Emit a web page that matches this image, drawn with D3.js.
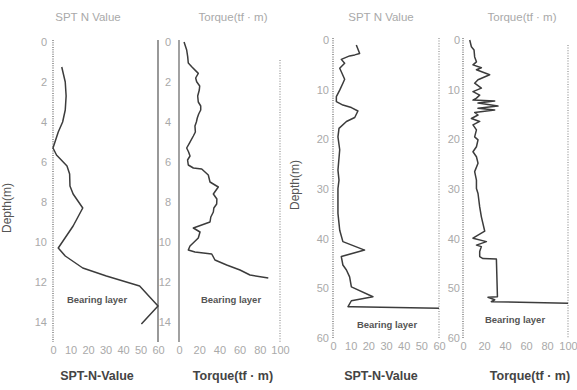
<!DOCTYPE html>
<html>
<head>
<meta charset="utf-8">
<script src="https://cdn.jsdelivr.net/npm/d3@7"></script>
<style>
  body { margin: 0; background: #fff; }
  svg { font-family: "Liberation Sans", Arial, sans-serif; }
</style>
</head>
<body>
<div id="chart"></div>
<script>
// tick labels
const leftDepthTicks = [0, 2, 4, 6, 8, 10, 12, 14];
const rightDepthTicks = [0, 10, 20, 30, 40, 50, 60];
const sptTicks = [0, 10, 20, 30, 40, 50, 60];
const torqueTicks = [0, 20, 40, 60, 80, 100];

// site A (left pair)
const sptADepth = [1.25, 2.0, 2.7, 3.4, 4.0, 4.5, 5.3, 5.65, 6.2, 6.6, 7.2, 7.6, 8.3, 9.2, 10.3, 10.7, 11.3, 11.7, 12.2, 13.2, 14.1];
const sptAN     = [5, 7, 7.5, 7, 5.5, 3, 0, 2, 8, 9.5, 9.7, 11.5, 17, 11.5, 3, 7, 17, 30.5, 49.5, 60, 50.5];

const torqueADepth = [0, 0.4, 0.73, 1.05, 1.24, 1.57, 1.8, 1.99, 2.2, 2.4, 2.7, 3.0, 3.2, 3.4, 3.6, 3.8, 4.0, 4.2, 4.5, 4.7, 5.07, 5.3, 5.5, 5.7, 5.9, 6.15, 6.3, 6.35, 6.65, 7.0, 7.25, 7.6, 7.85, 8.1, 8.3, 8.5, 8.75, 9.0, 9.3, 9.5, 9.8, 10.2, 10.4, 10.5, 10.6, 10.9, 11.15, 11.4, 11.65, 11.8];
const torqueAT     = [5, 7.6, 8.6, 9.2, 12.6, 19.1, 16.5, 17.5, 20.5, 20.1, 18.5, 19.1, 21.5, 21.5, 19.5, 18.1, 17.2, 15.8, 16.2, 14.2, 10.2, 7.6, 9.5, 10.9, 8.5, 9.2, 14.2, 22.5, 29, 30.7, 38.9, 34, 37.5, 37.3, 34.5, 34, 31.5, 30.7, 14.2, 20.8, 19.1, 10.9, 9.2, 15.8, 32.4, 35.6, 47.2, 60.4, 70.3, 88.4];

// site B (right pair)
const sptBDepth = [1.0, 2.7, 3.0, 3.2, 3.9, 4.7, 5.7, 6.4, 7.9, 8.7, 10.1, 11.4, 12.4, 13.1, 13.6, 14.3, 15.6, 16.4, 17.8, 19.5, 22.1, 26.2, 28.2, 29.9, 34.9, 38.3, 40.6, 42.3, 43.6, 45.3, 46.3, 47.7, 49.7, 51.7, 52.5, 53.7, 53.7, 54.0];
const sptBN     = [13.2, 15.1, 12.3, 9.4, 4.7, 6.6, 3.8, 4.7, 6.6, 5.6, 3.8, 1.9, 1.9, 5.6, 10.4, 14.1, 12.3, 7.6, 3.4, 2.8, 3.8, 2.8, 3.4, 2.8, 2.8, 3.8, 5.6, 17.9, 4.7, 5.6, 7.6, 9.4, 10.4, 22.6, 10.4, 8.5, 11, 60];

const torqueBDepth = [0, 1.35, 2.0, 3.4, 4.4, 5.0, 5.6, 6.0, 7.0, 8.0, 8.7, 9.7, 10.4, 11.1, 11.7, 12.1, 12.3, 12.7, 13.3, 13.75, 14.1, 14.6, 15.1, 15.8, 16.4, 17.1, 18.1, 19.5, 20.1, 21.5, 22.5, 23.5, 24.8, 26.5, 28.2, 29.9, 30.9, 33.6, 35.6, 38.5, 39.9, 40.6, 41.3, 41.6, 42.6, 43.6, 44.0, 44.1, 51.7, 51.8, 52.3, 52.7, 53.0];
const torqueBT     = [6.4, 8, 10.5, 11.1, 12.8, 9.5, 17.5, 12.8, 25.4, 14.3, 11.1, 17.5, 9.5, 15.9, 12.8, 9.5, 30.2, 14.3, 33.3, 14.3, 30.2, 11.1, 14.3, 8, 15.9, 9.5, 12.8, 11.1, 14.3, 12.8, 9.5, 12.8, 14.3, 11.1, 12.8, 12.8, 14.3, 15.9, 17.5, 20.7, 9.5, 22.3, 12.8, 17.5, 15.9, 15.9, 19, 31.8, 32.8, 23.8, 30.2, 27, 100];

const svg = d3.select('#chart').append('svg')
  .attr('width', 577)
  .attr('height', 390);

const lightText = '#a9a9a9';
const lineColor = '#3c3c3c';

function drawPanel(p) {
  const x = d3.scaleLinear().domain(p.xDomain).range(p.xRange);
  const y = d3.scaleLinear().domain(p.yDomain).range(p.yRange);
  const g = svg.append('g');

  // left and right frame lines
  g.append('line')
    .attr('x1', p.xRange[0]).attr('x2', p.xRange[0])
    .attr('y1', p.yRange[0] - 2).attr('y2', p.yRange[1])
    .attr('stroke', '#555').attr('stroke-width', 1.1)
    .attr('stroke-dasharray', p.leftSolid ? null : '1 1.3');
  g.append('line')
    .attr('x1', p.xRange[1]).attr('x2', p.xRange[1])
    .attr('y1', p.rightTop).attr('y2', p.yRange[1])
    .attr('stroke', p.rightSolid ? '#444' : '#888').attr('stroke-width', 1.1)
    .attr('stroke-dasharray', p.rightSolid ? null : '1 1.6');

  // depth labels
  const yAxis = g.append('g')
    .attr('transform', `translate(${p.depthLabelX},0)`)
    .call(d3.axisLeft(y).tickValues(p.depthTicks).tickSize(0).tickPadding(0));
  yAxis.select('.domain').remove();
  yAxis.selectAll('text').attr('fill', lightText).attr('font-size', 11);

  // value labels along the bottom
  const xAxis = g.append('g')
    .attr('transform', `translate(0,${p.yRange[1] + 1})`)
    .call(d3.axisBottom(x).tickValues(p.valueTicks).tickSize(0).tickPadding(3));
  xAxis.select('.domain').remove();
  xAxis.selectAll('text').attr('fill', lightText).attr('font-size', 11);

  // profile line
  const pts = p.depth.map((d, i) => [p.values[i], d]);
  g.append('path')
    .datum(pts)
    .attr('fill', 'none')
    .attr('stroke', lineColor)
    .attr('stroke-width', 1.5)
    .attr('stroke-linejoin', 'round')
    .attr('d', d3.line().x(d => x(d[0])).y(d => y(d[1])));

  // titles
  g.append('text')
    .attr('x', p.titleX).attr('y', 21)
    .attr('text-anchor', 'middle')
    .attr('fill', lightText).attr('font-size', 11.5)
    .text(p.title);
  g.append('text')
    .attr('x', p.bottomX).attr('y', 380)
    .attr('text-anchor', 'middle')
    .attr('fill', '#444').attr('font-size', 12.5).attr('font-weight', 'bold')
    .text(p.bottom);
  g.append('text')
    .attr('x', p.bearingX).attr('y', p.bearingY)
    .attr('text-anchor', 'middle')
    .attr('fill', '#555').attr('font-size', 9.5).attr('font-weight', 'bold')
    .text('Bearing layer');
}

drawPanel({
  depth: sptADepth, values: sptAN, xDomain: [0, 60], xRange: [53, 158],
  yDomain: [0, 15], yRange: [42, 342], depthTicks: leftDepthTicks, valueTicks: sptTicks,
  depthLabelX: 47, rightTop: 40, rightSolid: true, leftSolid: false,
  title: 'SPT N Value', titleX: 88, bottom: 'SPT-N-Value', bottomX: 97,
  bearingX: 97, bearingY: 303
});
drawPanel({
  depth: torqueADepth, values: torqueAT, xDomain: [0, 100], xRange: [179, 280],
  yDomain: [0, 15], yRange: [42, 342], depthTicks: leftDepthTicks, valueTicks: torqueTicks,
  depthLabelX: 171, rightTop: 60, rightSolid: false, leftSolid: true,
  title: 'Torque(tf · m)', titleX: 233, bottom: 'Torque(tf · m)', bottomX: 233,
  bearingX: 231, bearingY: 303
});
drawPanel({
  depth: sptBDepth, values: sptBN, xDomain: [0, 60], xRange: [333, 439],
  yDomain: [0, 60], yRange: [40, 338], depthTicks: rightDepthTicks, valueTicks: sptTicks,
  depthLabelX: 329, rightTop: 38, rightSolid: false, leftSolid: false,
  title: 'SPT N Value', titleX: 381, bottom: 'SPT-N-Value', bottomX: 381,
  bearingX: 387, bearingY: 328
});
drawPanel({
  depth: torqueBDepth, values: torqueBT, xDomain: [0, 100], xRange: [463, 568],
  yDomain: [0, 60], yRange: [40, 338], depthTicks: rightDepthTicks, valueTicks: torqueTicks,
  depthLabelX: 460, rightTop: 45, rightSolid: false, leftSolid: false,
  title: 'Torque(tf · m)', titleX: 522, bottom: 'Torque(tf · m)', bottomX: 530,
  bearingX: 515, bearingY: 323
});

// depth axis titles
[[11, 208], [299, 185]].forEach(([tx, ty]) => {
  svg.append('text')
    .attr('transform', `translate(${tx},${ty}) rotate(-90)`)
    .attr('text-anchor', 'middle')
    .attr('fill', '#555').attr('font-size', 12)
    .text('Depth(m)');
});
</script>
</body>
</html>
